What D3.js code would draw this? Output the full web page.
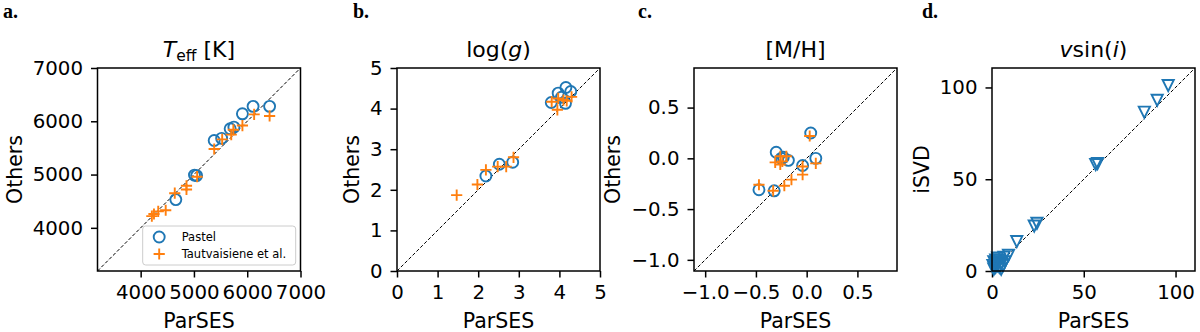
<!DOCTYPE html>
<html>
<head>
<meta charset="utf-8">
<script src="https://cdn.jsdelivr.net/npm/d3@7"></script>
<style>
  body { margin: 0; background: #fff; }
</style>
</head>
<body>
<svg id="fig" width="1200" height="332"></svg>
<script>
// ---- data (x = ParSES, y = other catalogue) ----
const pastelTeffX = [6420, 6110, 5910, 5750, 5680, 5520, 5380, 5010, 5050, 4660];
const pastelTeffY = [6280, 6280, 6140, 5890, 5860, 5680, 5640, 4990, 4980, 4530];
const tautTeffX = [6420, 6130, 5910, 5740, 5700, 5530, 5380, 5060, 4860, 4860, 4640, 4470, 4330, 4250, 4210];
const tautTeffY = [6100, 6130, 5920, 5840, 5750, 5660, 5480, 4960, 4790, 4720, 4650, 4330, 4310, 4260, 4220];

const pastelLoggX = [4.16, 3.97, 4.28, 3.80, 4.15, 4.05, 2.85, 2.52, 2.19];
const pastelLoggY = [4.52, 4.38, 4.42, 4.15, 4.13, 4.28, 2.68, 2.63, 2.34];
const tautLoggX = [1.47, 1.98, 2.19, 2.48, 2.69, 2.87, 3.81, 3.95, 3.97, 4.10, 4.30, 4.18];
const tautLoggY = [1.87, 2.13, 2.49, 2.57, 2.57, 2.80, 4.17, 3.97, 4.25, 4.21, 4.29, 4.19];

const pastelMhX = [0.04, -0.30, -0.23, -0.18, -0.04, 0.09, -0.47, -0.32, -0.25];
const pastelMhY = [0.25, 0.06, 0.01, -0.02, -0.07, 0.00, -0.31, -0.32, 0.00];
const tautMhX = [0.03, -0.26, -0.20, -0.31, -0.26, -0.24, -0.04, -0.04, 0.09, -0.15, -0.22, -0.33, -0.47];
const tautMhY = [0.22, 0.02, 0.02, -0.04, -0.06, -0.03, -0.08, -0.16, -0.05, -0.21, -0.27, -0.32, -0.26];

const vsiniX = [96, 90, 83, 57.5, 56.5, 24.5, 23, 13.5, 9, 6.5, 5, 4, 3, 2, 1.5, 1, 2, 3, 4, 5, 6, 1, 2, 3, 0.5, 7];
const vsiniY = [101, 93, 86.5, 58.5, 58, 26, 24.5, 16, 8.5, 7.5, 4, 6, 5, 4, 2, 5, 6, 3, 2, 1, 3, 1, 2, 7, 3, 5];

const teffTicks = [4000, 5000, 6000, 7000];
const loggTicks = [0, 1, 2, 3, 4, 5];
const mhTicks = [-1.0, -0.5, 0.0, 0.5];
const vsiniTicks = [0, 50, 100];

const legendLabels = ["Pastel", "Tautvaisiene et al."];

// ---- layout ----
const svg = d3.select("#fig");
const size = 203, topY = 68;
const blue = "#1f77b4", orange = "#ff7f0e";
const sans = "DejaVu Sans";
const zip = (xs, ys) => xs.map((x, i) => ({ x: x, y: ys[i] }));

function panel(opt) {
    const g = svg.append("g").attr("transform", `translate(${opt.left},${topY})`)
        .style("font-family", sans);
    const x = d3.scaleLinear().domain(opt.domain).range([0, size]);
    const y = d3.scaleLinear().domain(opt.domain).range([size, 0]);

    // diagonal 1:1
    g.append("line")
        .attr("x1", x(opt.domain[0])).attr("y1", y(opt.domain[0]))
        .attr("x2", x(opt.domain[1])).attr("y2", y(opt.domain[1]))
        .attr("stroke", "#000").attr("stroke-width", 1)
        .attr("stroke-dasharray", "3.5,2");

    const xa = g.append("g").attr("transform", `translate(0,${size})`)
        .call(d3.axisBottom(x).tickValues(opt.ticks).tickFormat(opt.fmt).tickSize(6.5).tickPadding(7));
    const ya = g.append("g")
        .call(d3.axisLeft(y).tickValues(opt.ticks).tickFormat(opt.fmt).tickSize(6.5).tickPadding(8));
    [xa, ya].forEach(a => {
        a.select(".domain").remove();
        a.selectAll("line").attr("stroke-width", 1.5);
        a.selectAll("text").attr("fill", "#000")
            .style("font-size", "19.8px").style("font-family", sans);
    });

    if (opt.circles) {
        g.append("g").selectAll("circle").data(opt.circles).join("circle")
            .attr("cx", d => x(d.x)).attr("cy", d => y(d.y)).attr("r", 5.5)
            .attr("fill", "none").attr("stroke", blue).attr("stroke-width", 1.9);
    }
    if (opt.tris) {
        g.append("g").selectAll("path").data(opt.tris).join("path")
            .attr("transform", d => `translate(${x(d.x)},${y(d.y)})`)
            .attr("d", "M-5.6,-5.6L5.6,-5.6L0,5.6Z")
            .attr("fill", "none").attr("stroke", blue).attr("stroke-width", 1.9)
            .attr("stroke-linejoin", "miter");
    }
    if (opt.plus) {
        g.append("g").selectAll("path").data(opt.plus).join("path")
            .attr("transform", d => `translate(${x(d.x)},${y(d.y)})`)
            .attr("d", "M-5.6,0H5.6M0,-5.6V5.6")
            .attr("stroke", orange).attr("stroke-width", 1.9);
    }

    // frame
    g.append("rect").attr("width", size).attr("height", size)
        .attr("fill", "none").attr("stroke", "#000").attr("stroke-width", 1.5);

    // title
    const t = g.append("text").attr("x", size / 2).attr("y", 57 - topY)
        .attr("text-anchor", "middle").style("font-size", "22px");
    opt.title(t);

    // axis labels
    g.append("text").attr("x", size / 2).attr("y", 328 - topY)
        .attr("text-anchor", "middle").style("font-size", "20.5px").text("ParSES");
    const bb = ya.node().getBBox();
    g.append("text").attr("transform", `translate(${bb.x - 11},${size / 2}) rotate(-90)`)
        .attr("text-anchor", "middle").style("font-size", "20.5px").text(opt.ylabel);

    // panel letter
    svg.append("text").attr("x", opt.letterX).attr("y", 18)
        .style("font-family", "Liberation Serif").style("font-weight", "bold")
        .style("font-size", "20px").text(opt.letter);

    return { g: g, x: x, y: y };
}

const pa = panel({
    left: 97.5, domain: [3190, 7000], ticks: teffTicks, fmt: d3.format("d"),
    circles: zip(pastelTeffX, pastelTeffY), plus: zip(tautTeffX, tautTeffY),
    ylabel: "Others", letter: "a.", letterX: 3,
    title: t => {
        t.append("tspan").style("font-style", "italic").text("T");
        t.append("tspan").style("font-size", "15.5px").attr("dy", 4).text("eff");
        t.append("tspan").attr("dy", -4).text(" [K]");
    }
});

panel({
    left: 397, domain: [0, 5], ticks: loggTicks, fmt: d3.format("d"),
    circles: zip(pastelLoggX, pastelLoggY), plus: zip(tautLoggX, tautLoggY),
    ylabel: "Others", letter: "b.", letterX: 353,
    title: t => {
        t.append("tspan").text("log(");
        t.append("tspan").style("font-style", "italic").text("g");
        t.append("tspan").text(")");
    }
});

panel({
    left: 694, domain: [-1.11, 0.89], ticks: mhTicks, fmt: d3.format(".1f"),
    circles: zip(pastelMhX, pastelMhY), plus: zip(tautMhX, tautMhY),
    ylabel: "Others", letter: "c.", letterX: 638,
    title: t => t.text("[M/H]")
});

panel({
    left: 992, domain: [0, 110.6], ticks: vsiniTicks, fmt: d3.format("d"),
    tris: zip(vsiniX, vsiniY),
    ylabel: "iSVD", letter: "d.", letterX: 922,
    title: t => {
        t.append("tspan").style("font-style", "italic").text("v");
        t.append("tspan").text("sin(");
        t.append("tspan").style("font-style", "italic").text("i");
        t.append("tspan").text(")");
    }
});

// legend (panel a)
const lg = pa.g.append("g").attr("transform", `translate(${142.7 - 97.5},${226 - topY})`);
lg.append("rect").attr("width", 153).attr("height", 39).attr("rx", 3)
    .attr("fill", "#fff").attr("fill-opacity", 0.8)
    .attr("stroke", "#ccc").attr("stroke-width", 1);
legendLabels.forEach((label, i) => {
    const row = lg.append("g").attr("transform", `translate(0,${11 + i * 17})`);
    if (i === 0) {
        row.append("circle").attr("cx", 16.5).attr("r", 5.5)
            .attr("fill", "none").attr("stroke", blue).attr("stroke-width", 1.9);
    } else {
        row.append("path").attr("transform", "translate(16.5,0)")
            .attr("d", "M-5.6,0H5.6M0,-5.6V5.6")
            .attr("stroke", orange).attr("stroke-width", 1.9);
    }
    row.append("text").attr("x", 39).attr("y", 4).style("font-size", "11.5px").text(label);
});
</script>
</body>
</html>
